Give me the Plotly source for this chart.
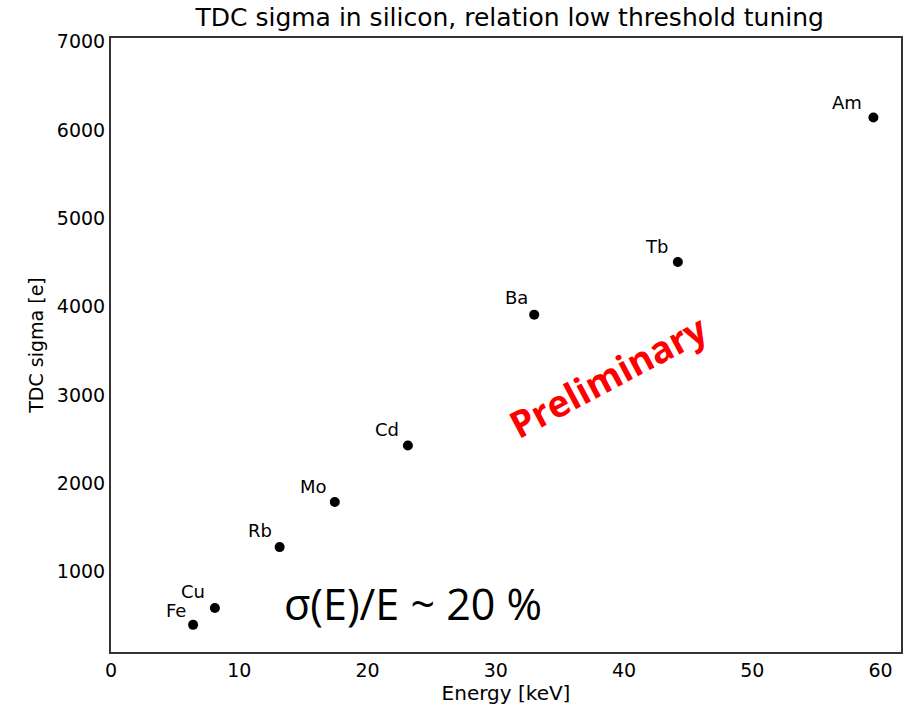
import plotly.graph_objects as go

elements = ["Fe", "Cu", "Rb", "Mo", "Cd", "Ba", "Tb", "Am"]
energy_kev = [6.4, 8.1, 13.15, 17.45, 23.15, 33.0, 44.2, 59.45]
tdc_sigma = [400, 590, 1280, 1790, 2430, 3910, 4505, 6140]
label_dx = [-17, -22, -20, -21, -21, -18, -21, -26]
label_dy = [14, 17, 17, 16, 16, 17, 16, 15]

x_ticks = [0, 10, 20, 30, 40, 50, 60]
y_ticks = [1000, 2000, 3000, 4000, 5000, 6000, 7000]

fig = go.Figure()
fig.add_trace(go.Scatter(
    x=energy_kev, y=tdc_sigma, mode="markers",
    marker=dict(color="black", size=10),
    showlegend=False,
))

for el, xv, yv, dx, dy in zip(elements, energy_kev, tdc_sigma, label_dx, label_dy):
    fig.add_annotation(x=xv, y=yv, text=el, showarrow=False,
                       xshift=dx, yshift=dy,
                       font=dict(family="DejaVu Sans", size=18, color="black"))

fig.add_annotation(xref="paper", yref="paper", x=0.382, y=0.028,
                   text="σ(E)/E ~ 20 %", showarrow=False,
                   font=dict(family="Open Sans", size=43, color="black"))
fig.add_annotation(xref="paper", yref="paper", x=0.6295, y=0.451,
                   text="<b>Preliminary</b>", showarrow=False, textangle=-28,
                   font=dict(family="Open Sans", size=37, color="#ff0000"))

fig.update_layout(
    width=907, height=711,
    margin=dict(l=111, r=4, t=38, b=59),
    paper_bgcolor="white", plot_bgcolor="white",
    title=dict(text="TDC sigma in silicon, relation low threshold tuning",
               x=0.562, xanchor="center", y=0.976, yanchor="middle",
               font=dict(family="DejaVu Sans", size=25, color="black")),
    font=dict(family="DejaVu Sans", color="black"),
)
fig.update_xaxes(range=[0, 61.6], tickvals=x_ticks, showgrid=False, zeroline=False,
                 showline=True, mirror=True, linecolor="#333333", linewidth=2,
                 ticks="", tickfont=dict(size=19),
                 title=dict(text="Energy [keV]", font=dict(size=20), standoff=6))
fig.update_yaxes(range=[93, 7040], tickvals=y_ticks, showgrid=False, zeroline=False,
                 showline=True, mirror=True, linecolor="#333333", linewidth=2,
                 ticks="", tickfont=dict(size=19),
                 title=dict(text="TDC sigma [e]", font=dict(size=19), standoff=8))

fig.write_html("out.html")
